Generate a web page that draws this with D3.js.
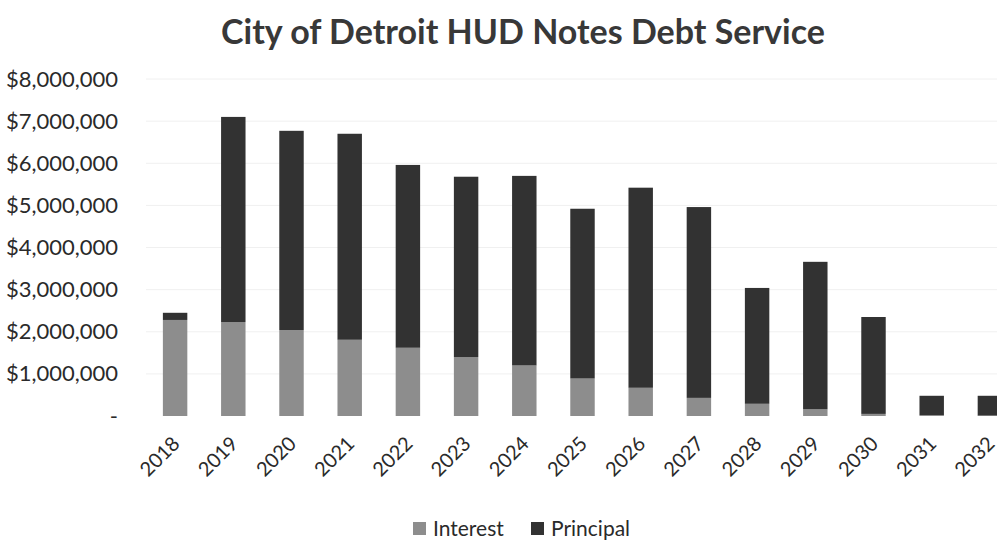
<!DOCTYPE html>
<html>
  <head>
    <meta charset="utf-8">
    <title>City of Detroit HUD Notes Debt Service</title>
    <script type="text/javascript" src="https://d3js.org/d3.v7.min.js"></script>
    <style>
      body { margin: 0; background: #fff; }
      text { font-family: Lato, "Open Sans", sans-serif; }
    </style>
  </head>
  <body>
    <script type="text/javascript">
    var years = ["2018","2019","2020","2021","2022","2023","2024","2025","2026","2027","2028","2029","2030","2031","2032"];
    var interest  = [2280000, 2230000, 2040000, 1810000, 1620000, 1400000, 1200000, 890000, 670000, 430000, 290000, 160000, 50000, 20000, 10000];
    var principal = [170000, 4870000, 4730000, 4890000, 4340000, 4280000, 4500000, 4030000, 4750000, 4530000, 2750000, 3500000, 2300000, 460000, 470000];
    var yTicks = [0, 1000000, 2000000, 3000000, 4000000, 5000000, 6000000, 7000000, 8000000];
    var seriesNames = ["Interest", "Principal"];
    var colors = ["#8d8d8d", "#323232"];

    var w = 997, h = 544;
    var svg = d3.select("body").append("svg")
                .attr("width", w).attr("height", h);

    var table = years.map(function(y, i){
      return { year: y, Interest: interest[i], Principal: principal[i] };
    });
    var stack = d3.stack().keys(seriesNames)(table);

    var x = d3.scaleBand()
              .domain(years)
              .range([146, 146 + 58.2 * years.length])
              .paddingInner(0.58)
              .paddingOuter(0.29);
    var y = d3.scaleLinear()
              .domain([0, 8000000])
              .range([416, 79]);

    // title
    svg.append("text")
       .attr("x", 523).attr("y", 44)
       .attr("text-anchor", "middle")
       .attr("font-size", "34px")
       .attr("font-weight", "bold")
       .attr("fill", "#383838")
       .text("City of Detroit HUD Notes Debt Service");

    // faint gridlines
    svg.append("g").selectAll("line")
       .data(yTicks.slice(1))
       .enter().append("line")
       .attr("x1", 146).attr("x2", w)
       .attr("y1", function(d){ return y(d); })
       .attr("y2", function(d){ return y(d); })
       .attr("stroke", "#f0f0f0")
       .attr("stroke-width", 1);

    // y axis labels
    var yAxis = d3.axisLeft(y)
                  .tickValues(yTicks)
                  .tickSize(0)
                  .tickPadding(0)
                  .tickFormat(function(d){ return d === 0 ? "-" : "$" + d3.format(",")(d); });
    var gy = svg.append("g").attr("transform", "translate(118,0)").call(yAxis);
    gy.select(".domain").remove();
    gy.selectAll("text")
      .attr("font-size", "22px")
      .attr("fill", "#2a2a2a")
      .style("font-family", "Lato, 'Open Sans', sans-serif");

    // bars
    svg.append("g").selectAll("g")
       .data(stack)
       .enter().append("g")
       .attr("fill", function(d, i){ return colors[i]; })
       .selectAll("rect")
       .data(function(d){ return d; })
       .enter().append("rect")
       .attr("x", function(d){ return x(d.data.year); })
       .attr("width", x.bandwidth())
       .attr("y", function(d){ return y(d[1]); })
       .attr("height", function(d){ return y(d[0]) - y(d[1]); });

    // x axis labels
    var xAxis = d3.axisBottom(x).tickSize(0).tickPadding(0);
    var gx = svg.append("g").attr("transform", "translate(0,440)").call(xAxis);
    gx.select(".domain").remove();
    gx.selectAll("text")
      .attr("font-size", "20px")
      .attr("fill", "#2a2a2a")
      .style("font-family", "Lato, 'Open Sans', sans-serif")
      .attr("text-anchor", "end")
      .attr("dy", "0.35em")
      .attr("transform", "translate(1,0) rotate(-45)");

    // legend
    var legend = svg.append("g").attr("transform", "translate(413,529)");
    var lx = [0, 118];
    seriesNames.forEach(function(name, i){
      legend.append("rect")
            .attr("x", lx[i]).attr("y", -7)
            .attr("width", 13).attr("height", 13)
            .attr("fill", colors[i]);
      legend.append("text")
            .attr("x", lx[i] + 20).attr("y", 0)
            .attr("dy", "0.35em")
            .attr("font-size", "21px")
            .attr("fill", "#2a2a2a")
            .text(name);
    });
    </script>
  </body>
</html>
